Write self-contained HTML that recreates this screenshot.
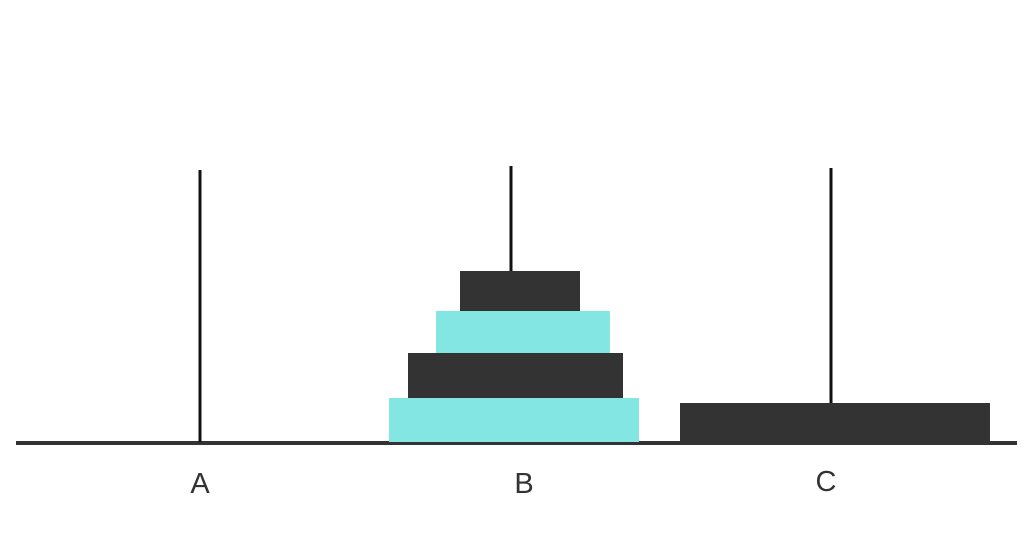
<!DOCTYPE html>
<html><head><meta charset="utf-8"><style>
html,body{margin:0;padding:0;background:#fff;}
svg{display:block;}
text{font-family:"Liberation Sans","DejaVu Sans",sans-serif;font-size:29px;fill:#333;}
</style></head><body>
<svg id="chart" width="1025" height="539" viewBox="0 0 1025 539" xmlns="http://www.w3.org/2000/svg">
<rect x="16" y="441" width="1001" height="4" fill="#333"/>
</svg>
<script>
const pegNames = ['A','B','C'];
const pegX = [200, 511, 831];
const pegTop = [170, 166, 168];
const diskPeg = [1, 1, 1, 1, 2];
const diskLeft = [389, 408, 436, 460, 680];
const diskRight = [639, 623, 610, 580, 990];
const diskTop = [398, 353, 311, 271, 403];
const diskBottom = [442, 398, 353, 311, 442];
const diskColor = ['#84e6e2','#333333','#84e6e2','#333333','#333333'];
const labelX = [200, 524, 826];
const labelY = [493, 493, 491];

const svg = document.getElementById('chart');
const NS = 'http://www.w3.org/2000/svg';
pegX.forEach((x, i) => {
  const l = document.createElementNS(NS, 'rect');
  l.setAttribute('x', x - 1.5); l.setAttribute('y', pegTop[i]);
  l.setAttribute('width', 3); l.setAttribute('height', 442 - pegTop[i]);
  l.setAttribute('fill', '#111');
  
  
  svg.appendChild(l);
});
diskLeft.forEach((x, i) => {
  const r = document.createElementNS(NS, 'rect');
  r.setAttribute('x', x); r.setAttribute('y', diskTop[i]);
  r.setAttribute('width', diskRight[i] - x); r.setAttribute('height', diskBottom[i] - diskTop[i]);
  r.setAttribute('fill', diskColor[i]);
  
  
  svg.appendChild(r);
});
pegNames.forEach((n, i) => {
  const t = document.createElementNS(NS, 'text');
  t.setAttribute('x', labelX[i]); t.setAttribute('y', labelY[i]);
  t.setAttribute('text-anchor', 'middle');
  t.textContent = n;
  
  
  svg.appendChild(t);
});
</script>
</body></html>
